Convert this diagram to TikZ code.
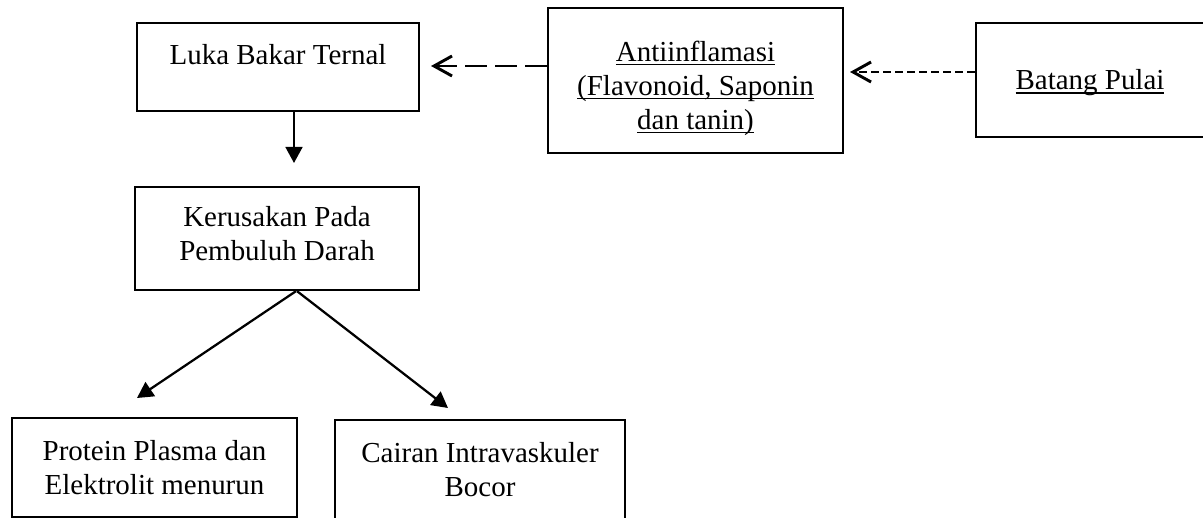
\documentclass[tikz,border=0pt]{standalone}
\usepackage{fontspec}
\setmainfont{Liberation Serif}
\usetikzlibrary{arrows.meta,calc}

% underline close under the baseline, as in the reference
\newcommand{\undl}[1]{\setbox0\hbox{#1}\rlap{\rule[-0.14em]{\wd0}{0.05em}}\box0}

\begin{document}
\begin{tikzpicture}[x=0.025cm, y=-0.025cm,
		box/.style={draw, line width=1.6pt, align=center, font=\fontsize{20.6pt}{24.2pt}\selectfont},
		solidarr/.style={line width=1.6pt, -{Triangle[length=0.4cm, width=0.42cm]}},
		dasharr/.style={line width=2.1pt, -{Straight Barb[length=0.45cm, width=0.5cm, line width=2.1pt]}}]
		\useasboundingbox (0,0) rectangle (1203,518);
		
		% Boxes
		\node[box, minimum width=7.05cm, minimum height=2.2cm, text height=0.5cm, text depth=0.62cm] (luka) at (278,67) {Luka Bakar Ternal};
		\node[box, minimum width=7.375cm, minimum height=3.625cm, text height=73.8pt, text depth=4.5pt] (anti) at (695.5,80.5) {\undl{Antiinflamasi}\\ \undl{(Flavonoid, Saponin}\\ \undl{dan tanin)}};
		\node[box, minimum width=5.7cm, minimum height=2.85cm, text height=18pt, text depth=4.5pt] (batang) at (1090,80) {\undl{Batang Pulai}};
		\node[box, minimum width=7.1cm, minimum height=2.575cm, text height=38.3pt, text depth=7.4pt] (kerus) at (277,238.5) {Kerusakan Pada\\ Pembuluh Darah};
		\node[box, minimum width=7.125cm, minimum height=2.475cm] (protein) at (154.5,467.5) {Protein Plasma dan\\ Elektrolit menurun};
		\node[box, minimum width=7.25cm, minimum height=2.5cm] (cairan) at (480,470) {Cairan Intravaskuler\\ Bocor};
		
		% Arrow ends
		\coordinate (lukaIn) at (431,66);
		\coordinate (antiIn) at (850,72);
		\coordinate (lukaTip) at (294,163);
		\coordinate (proteinTip) at (137,398);
		\coordinate (cairanTip) at (448,408);
		
		% Dashed
		\draw[dasharr, dash pattern=on 0.55cm off 0.2cm] (anti.west |- lukaIn) -- (lukaIn);
		\draw[dasharr, dash pattern=on 0.2cm off 0.1cm] (batang.west |- antiIn) -- (antiIn);
		
		% Solid
		\draw[solidarr] (luka.south -| lukaTip) -- (lukaTip);
		\draw[solidarr] ($(kerus.south)+(19,0)$) -- (proteinTip);
		\draw[solidarr] ($(kerus.south)+(20,0)$) -- (cairanTip);
	\end{tikzpicture}
\end{document}
